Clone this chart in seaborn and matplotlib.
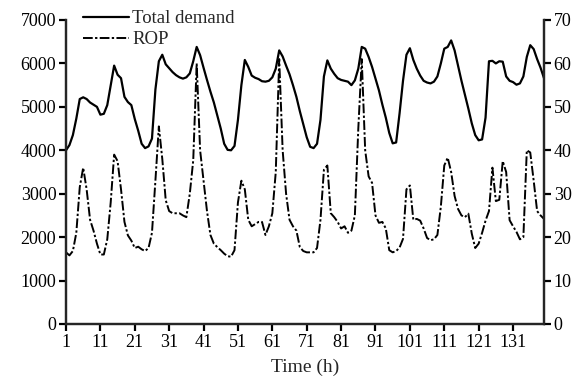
import numpy as np
import pandas as pd
import matplotlib
matplotlib.use("Agg")
import matplotlib.pyplot as plt
import seaborn as sns

hours = list(range(1, 141))

total_demand = [
    4000, 4120, 4350, 4730, 5180, 5220, 5180, 5100, 5050, 5000,
    4820, 4840, 5040, 5500, 5950, 5740, 5660, 5230, 5110, 5040,
    4720, 4450, 4150, 4050, 4090, 4270, 5400, 6050, 6200, 5980,
    5890, 5800, 5730, 5680, 5650, 5680, 5770, 6050, 6380, 6190,
    5900, 5620, 5350, 5100, 4800, 4500, 4150, 4010, 4000, 4100,
    4700, 5500, 6080, 5920, 5720, 5670, 5640, 5590, 5580, 5600,
    5680, 5880, 6300, 6160, 5950, 5750, 5500, 5230, 4900, 4600,
    4300, 4080, 4050, 4150, 4700, 5700, 6070, 5880, 5760, 5660,
    5620, 5600, 5580, 5500, 5610, 5880, 6380, 6340, 6150, 5920,
    5650, 5380, 5050, 4750, 4400, 4160, 4180, 4850, 5600, 6200,
    6350, 6080, 5880, 5720, 5600, 5560, 5540, 5580, 5700, 6000,
    6340, 6380, 6530, 6300, 5950, 5600, 5280, 4960, 4620, 4350,
    4230, 4250, 4750, 6050, 6060, 6000, 6050, 6040, 5700, 5600,
    5570, 5510, 5540, 5700, 6150, 6420, 6330, 6100, 5900, 5660,
]

rop = [
    16.5, 15.8, 16.8, 21.0, 31.5, 36.0, 31.0, 24.0, 21.5, 18.5,
    16.0, 16.0, 19.5, 28.0, 39.0, 37.5, 31.0, 23.5, 20.4, 19.2,
    17.5, 17.8, 17.2, 16.8, 17.5, 21.0, 33.0, 45.5, 38.0, 28.5,
    26.0, 25.5, 25.5, 25.5, 25.0, 24.6, 30.0, 37.7, 60.0, 40.0,
    33.0, 26.0, 20.5, 18.5, 17.7, 17.0, 16.2, 15.6, 15.5, 17.0,
    28.0, 33.0, 31.0, 24.0, 22.5, 23.0, 23.5, 23.5, 20.5, 22.5,
    25.5, 35.0, 61.0, 40.0, 30.0, 24.0, 22.5, 21.5, 17.7, 16.8,
    16.5, 16.5, 16.5, 17.5, 24.0, 35.5, 36.5, 25.5, 24.6, 23.5,
    22.0, 22.5, 21.0, 21.5, 25.0, 45.0, 61.0, 40.0, 34.0, 32.5,
    25.0, 23.3, 23.5, 22.0, 17.0, 16.5, 16.8, 17.6, 19.6, 31.0,
    31.9, 24.0, 24.2, 23.8, 22.0, 19.8, 19.3, 19.5, 20.5, 27.0,
    36.5, 38.3, 35.0, 29.5, 26.5, 25.0, 24.6, 25.4, 20.8, 17.5,
    18.5, 21.0, 23.8, 26.0, 36.0, 28.3, 28.6, 37.5, 35.0, 23.9,
    22.5, 21.2, 19.5, 20.0, 40.0, 39.5, 33.0, 26.0, 25.0, 24.2,
]

x_ticks = list(range(1, 141, 10))
left_ticks = [0, 1000, 2000, 3000, 4000, 5000, 6000, 7000]
right_ticks = [0, 10, 20, 30, 40, 50, 60, 70]
series_names = ["Total demand", "ROP"]
x_label = "Time (h)"

df = pd.DataFrame({"hour": hours, "total": total_demand, "rop": rop})

sns.set_theme(style="ticks")
plt.rcParams["font.family"] = ["Liberation Serif", "DejaVu Serif"]
plt.rcParams["axes.linewidth"] = 1.6
plt.rcParams["xtick.major.width"] = 1.6
plt.rcParams["ytick.major.width"] = 1.6
plt.rcParams["xtick.major.size"] = 5
plt.rcParams["ytick.major.size"] = 5

fig = plt.figure(figsize=(5.84, 3.84), dpi=100)
ax = fig.add_axes([66 / 584, 60 / 384, (544 - 66) / 584, (324 - 20) / 384])
ax2 = ax.twinx()

sns.lineplot(data=df, x="hour", y="total", ax=ax, color="black", linewidth=1.6)
sns.lineplot(data=df, x="hour", y="rop", ax=ax2, color="black", linewidth=1.4)
l1 = ax.get_lines()[0]
l2 = ax2.get_lines()[0]
l2.set_dashes([5, 1.2, 1.2, 1.2])

ax.set_xlim(1, 140)
ax.set_ylim(0, 7000)
ax2.set_ylim(0, 70)
ax.set_xticks(x_ticks)
ax.set_xticklabels([str(t) for t in x_ticks])
ax.set_yticks(left_ticks)
ax2.set_yticks(right_ticks)

for a in (ax, ax2):
    a.spines["top"].set_visible(False)
    a.tick_params(labelsize=13, colors="black", pad=2)
    a.set_ylabel("")
ax.spines["right"].set_visible(True)
ax2.spines["right"].set_visible(True)
ax.set_xlabel(x_label, fontsize=14, labelpad=6)

leg = ax.legend([l1, l2], series_names, loc="upper left",
                bbox_to_anchor=(0.035, 1.033), frameon=False, fontsize=13.5,
                handlelength=2.45, handletextpad=0.18, borderaxespad=0,
                borderpad=0, labelspacing=0.22)

fig.savefig("out.png", dpi=100)
